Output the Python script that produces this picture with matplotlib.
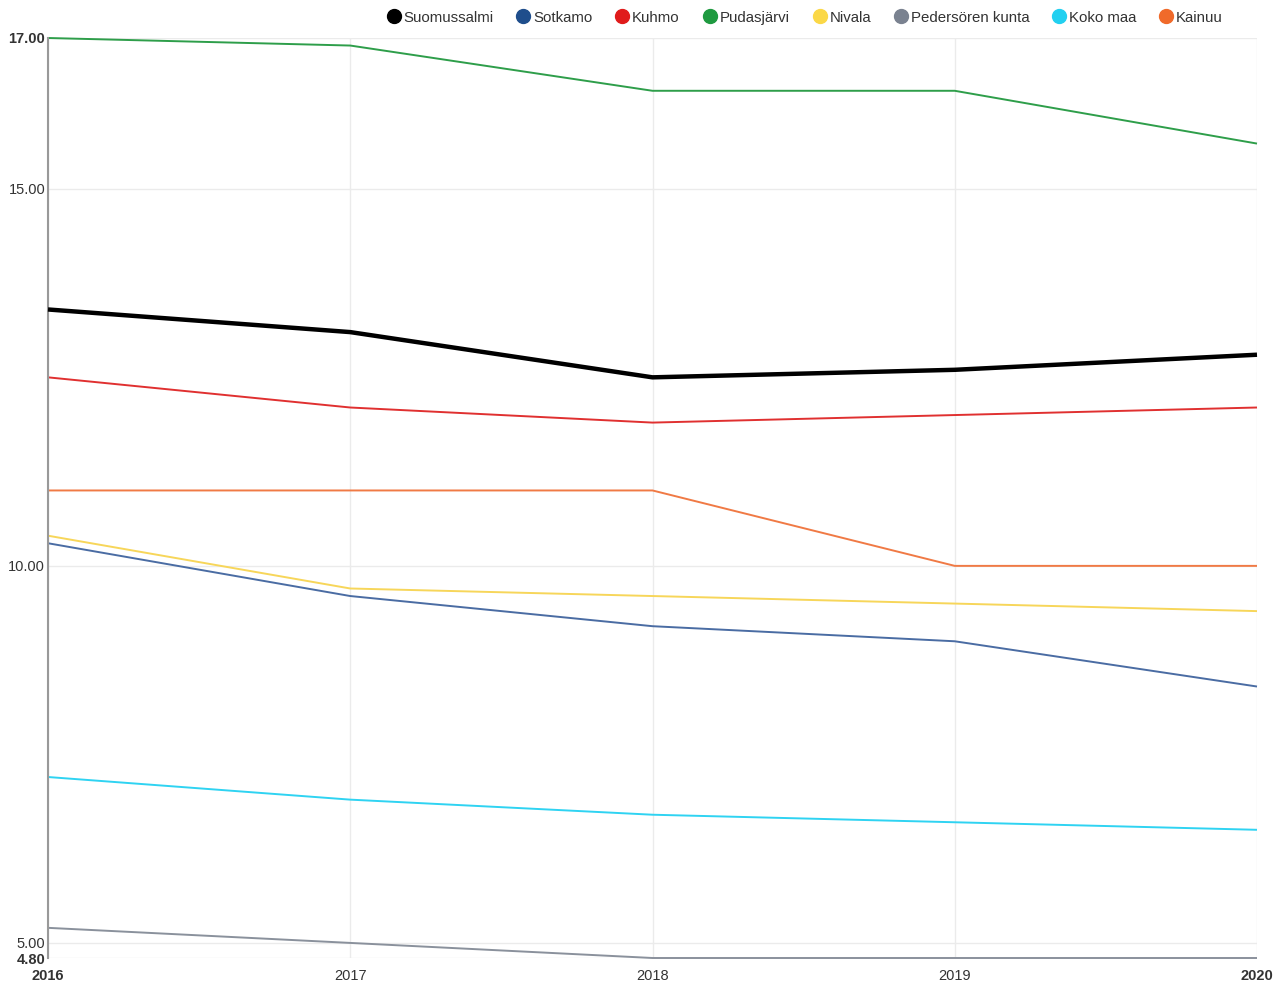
import matplotlib.pyplot as plt
from matplotlib.lines import Line2D

plt.rcParams['font.family'] = ['Liberation Sans', 'DejaVu Sans']

# data
vuodet = [2016, 2017, 2018, 2019, 2020]
nimet = ["Suomussalmi", "Sotkamo", "Kuhmo", "Pudasjärvi", "Nivala",
         "Pedersören kunta", "Koko maa", "Kainuu"]
suomussalmi = [13.4, 13.1, 12.5, 12.6, 12.8]
sotkamo = [10.3, 9.6, 9.2, 9.0, 8.4]
kuhmo = [12.5, 12.1, 11.9, 12.0, 12.1]
pudasjarvi = [17.0, 16.9, 16.3, 16.3, 15.6]
nivala = [10.4, 9.7, 9.6, 9.5, 9.4]
pedersoren = [5.2, 5.0, 4.8, 4.8, 4.8]
koko_maa = [7.2, 6.9, 6.7, 6.6, 6.5]
kainuu = [11.0, 11.0, 11.0, 10.0, 10.0]
y_ticks = [4.8, 5.0, 10.0, 15.0, 17.0]

sarjat = [suomussalmi, sotkamo, kuhmo, pudasjarvi, nivala, pedersoren, koko_maa, kainuu]
line_colors = ["#000000", "#4a6ca3", "#e03030", "#2e9e4a", "#f7d65a",
               "#8a919c", "#2fd3f2", "#f07a45"]
dot_colors = ["#000000", "#1f4e8c", "#e01b1b", "#1f9a40", "#fbd847",
              "#7a8290", "#22d0f0", "#f06a2a"]

fig = plt.figure(figsize=(12.84, 9.83), dpi=100)
ax = fig.add_axes([48/1284, 1 - 958/983, (1257-48)/1284, (958-38)/983])

for i, s in enumerate(sarjat):
    lw = 3.2 if i == 0 else 1.4
    ax.plot(vuodet, s, color=line_colors[i], lw=lw, zorder=3 if i == 0 else 2,
            solid_capstyle='butt', clip_on=False)

ax.set_xlim(2016, 2020)
ax.set_ylim(4.8, 17.0)
ax.set_xticks(vuodet)
ax.set_yticks(y_ticks)
ax.set_xticklabels([str(v) for v in vuodet])
ax.set_yticklabels(["%.2f" % v for v in y_ticks])
for lab in [ax.get_xticklabels()[0], ax.get_xticklabels()[-1],
            ax.get_yticklabels()[0], ax.get_yticklabels()[-1]]:
    lab.set_fontweight('bold')
ax.tick_params(axis='both', length=0, labelsize=10.5, colors='#333333')
ax.tick_params(axis='x', pad=8)
ax.tick_params(axis='y', pad=2)
ax.grid(True, color='#ebebeb', lw=1)
ax.set_axisbelow(True)
for sp in ['top', 'right', 'bottom']:
    ax.spines[sp].set_visible(False)
ax.spines['left'].set_color('#999999')
ax.spines['left'].set_linewidth(1.5)

handles = [Line2D([], [], marker='o', ls='none', markersize=10,
                  markerfacecolor=c, markeredgecolor=c) for c in dot_colors]
fig.legend(handles, nimet, loc='upper right', bbox_to_anchor=(0.963, 1.003), ncol=8,
           frameon=False, fontsize=10.8, handletextpad=-0.35, columnspacing=1.0,
           labelcolor='#333333')

fig.savefig("out.png", dpi=100)
